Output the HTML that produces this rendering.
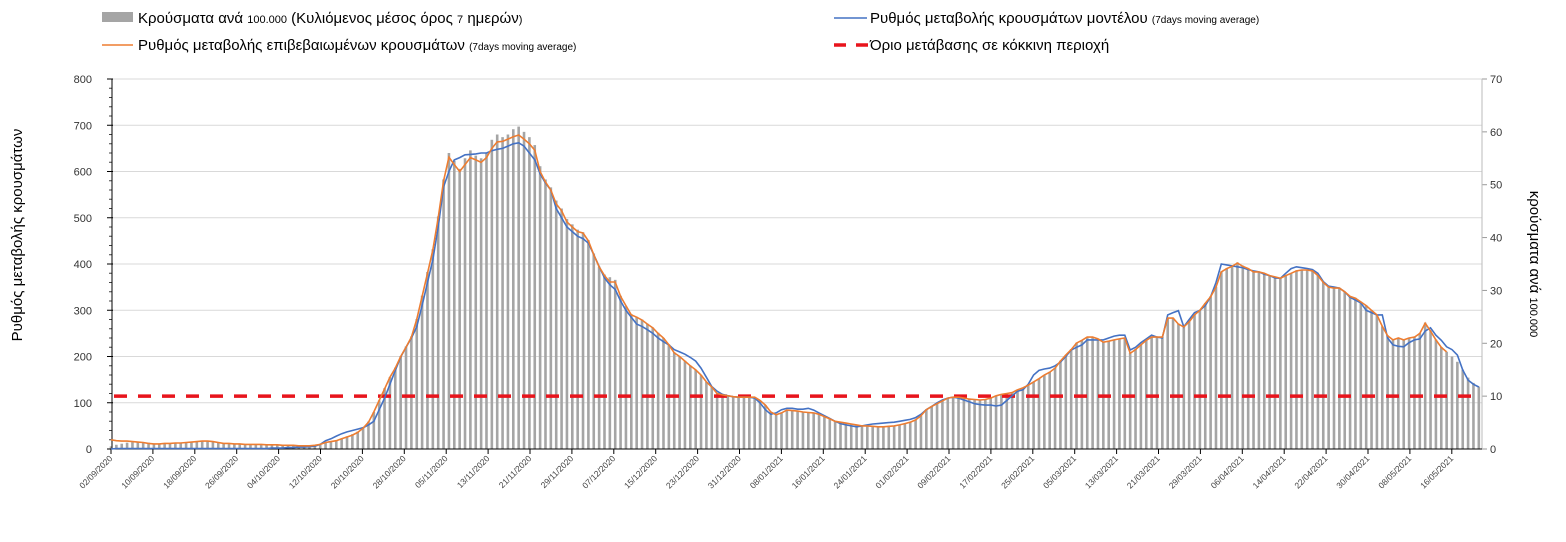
<!DOCTYPE html>
<html><head><meta charset="utf-8">
<style>
html,body{margin:0;padding:0;background:#fff;}
body{width:1566px;height:537px;overflow:hidden;font-family:"Liberation Sans","Noto Sans CJK SC",sans-serif;}
svg text{font-family:"Liberation Sans","Noto Sans CJK SC",sans-serif;}
</style></head>
<body>
<svg id="chart" width="1566" height="537" xmlns="http://www.w3.org/2000/svg">
  <g id="legend">
    <g>
      <rect x="102" y="12" width="31" height="10" fill="#a5a5a5"/>
      <text x="138" y="23" font-size="15" fill="#000">Κρούσματα ανά <tspan font-size="11">100.000</tspan> (Κυλιόμενος μέσος όρος <tspan font-size="11">7</tspan> ημερών<tspan font-size="11">)</tspan></text>
    </g>
    <g>
      <line x1="102" y1="45" x2="133" y2="45" stroke="#ed7d31" stroke-width="1.5"/>
      <text x="138" y="50" font-size="15" fill="#000">Ρυθμός μεταβολής επιβεβαιωμένων κρουσμάτων <tspan font-size="10">(7days moving average)</tspan></text>
    </g>
    <g>
      <line x1="834" y1="18" x2="867" y2="18" stroke="#4472c4" stroke-width="1.5"/>
      <text x="870" y="23" font-size="15" fill="#000">Ρυθμός μεταβολής κρουσμάτων μοντέλου <tspan font-size="10">(7days moving average)</tspan></text>
    </g>
    <g>
      <line x1="834" y1="45" x2="869" y2="45" stroke="#e8141c" stroke-width="3.5" stroke-dasharray="12,10"/>
      <text x="870" y="50" font-size="15" fill="#000">Όριο μετάβασης σε κόκκινη περιοχή</text>
    </g>
  </g>
  <text transform="translate(22,235) rotate(-90)" text-anchor="middle" font-size="15" fill="#000">Ρυθμός μεταβολής κρουσμάτων</text>
  <text transform="translate(1530,264) rotate(90)" text-anchor="middle" font-size="15" fill="#000">κρούσματα ανά <tspan font-size="11">100.000</tspan></text>
  <g id="grid"></g>
  <g id="bars"></g>
  <g id="axes"></g>
  <g id="lines"></g>
</svg>
<script>
const leftTicks = [0,100,200,300,400,500,600,700,800];
const rightTicks = [0,10,20,30,40,50,60,70];
const dateLabels = ["02/09/2020","10/09/2020","18/09/2020","26/09/2020","04/10/2020","12/10/2020","20/10/2020","28/10/2020","05/11/2020","13/11/2020","21/11/2020","29/11/2020","07/12/2020","15/12/2020","23/12/2020","31/12/2020","08/01/2021","16/01/2021","24/01/2021","01/02/2021","09/02/2021","17/02/2021","25/02/2021","05/03/2021","13/03/2021","21/03/2021","29/03/2021","06/04/2021","14/04/2021","22/04/2021","30/04/2021","08/05/2021","16/05/2021"];
const thresholdRight = 10;
const casesPer100k = [
0.5,0.8,1.0,1.2,1.3,1.4,1.3,1.2,1.0,1.0,
1.1,1.1,1.2,1.2,1.3,1.4,1.5,1.6,1.6,1.5,
1.3,1.1,1.1,1.0,1.0,0.9,0.9,0.9,0.9,0.8,
0.8,0.8,0.7,0.7,0.7,0.6,0.6,0.6,0.7,0.9,
1.3,1.5,1.7,2.0,2.4,2.8,3.3,4.1,5.2,7.0,
9.2,11.5,13.6,15.4,17.6,19.4,21.3,24.6,29.0,33.5,
37.8,44.0,51.0,56.0,54.5,53.0,55.0,56.5,55.5,55.0,
56.0,58.5,59.5,59.0,59.5,60.5,61.0,60.0,59.0,57.5,
53.5,51.0,49.5,47.0,45.5,43.5,42.5,41.5,41.0,39.5,
37.0,34.5,33.0,32.5,32.0,29.0,27.0,25.5,25.0,24.5,
23.7,23.0,22.0,21.0,19.8,18.3,17.5,16.7,15.8,15.0,
14.0,12.7,11.8,10.5,10.3,10.1,9.9,9.8,9.8,9.8,
9.8,9.2,8.3,7.0,6.5,6.8,7.4,7.3,7.2,7.0,
6.9,6.8,6.6,6.1,5.7,5.3,5.1,4.9,4.7,4.6,
4.4,4.4,4.3,4.2,4.2,4.3,4.4,4.6,4.8,5.1,
5.5,6.3,7.5,8.1,8.6,9.1,9.6,9.8,9.8,9.6,
9.5,9.4,9.3,9.4,9.6,10.1,10.4,10.5,10.7,11.2,
11.6,12.1,12.7,13.3,14.0,14.6,15.4,16.7,17.8,18.9,
20.1,20.6,21.2,21.2,20.9,20.3,20.4,20.7,20.9,21.1,
18.2,18.9,19.7,20.6,21.2,21.2,21.2,24.8,24.8,23.7,
23.2,24.1,25.4,26.3,27.6,28.9,30.7,33.6,34.2,34.7,
35.3,34.7,34.2,33.6,33.6,33.3,32.9,32.6,32.4,32.9,
33.3,33.8,33.9,33.9,33.8,32.9,31.6,30.7,30.5,30.5,
29.8,28.9,28.6,27.9,27.2,26.3,25.4,23.2,21.5,20.7,
21.1,20.7,21.1,21.2,21.9,23.9,22.4,20.7,19.3,18.4,
17.5,16.5,15.0,13.5,12.5,11.8];
const confirmedRate = [
20,18,17,17,16,15,14,12,11,11,
12,12,13,13,14,15,16,17,17,16,
14,12,12,11,11,10,10,10,10,9,
9,9,8,8,8,7,7,7,8,10,
14,16,18,22,26,30,36,45,58,80,
105,130,155,175,200,220,242,280,330,380,
430,500,580,631,615,600,615,630,625,620,
630,650,664,665,670,675,679,670,660,646,
600,577,560,530,515,491,480,470,467,450,
420,394,375,361,361,330,310,290,285,279,
270,262,250,240,225,208,200,190,180,171,
160,145,134,120,117,115,113,112,112,112,
112,105,95,80,74,78,84,83,82,80,
79,78,75,70,65,60,58,56,54,52,
50,50,49,48,48,49,50,52,55,58,
63,72,85,92,98,104,110,112,112,110,
108,107,106,107,110,115,118,120,122,128,
132,138,145,152,160,166,175,190,203,215,
229,235,242,242,238,231,233,236,238,240,
207,215,225,235,242,242,242,283,283,270,
264,275,290,300,315,329,350,383,390,395,
402,395,390,383,383,380,375,372,369,375,
380,385,387,387,385,375,360,350,348,348,
340,330,326,318,310,300,290,265,245,236,
240,236,240,242,250,272,255,236,220,210];
const modelRate = [
0,1,1,1,1,1,1,1,1,1,
1,1,1,1,1,1,1,1,1,1,
1,1,1,1,1,1,1,1,1,1,
2,2,2,3,3,4,4,5,6,10,
18,22,28,33,37,40,43,46,52,60,
85,110,140,170,199,220,240,264,310,360,
409,480,567,600,625,630,636,637,638,640,
640,645,648,650,655,660,662,655,640,625,
595,575,560,520,500,480,470,460,455,445,
420,395,370,355,345,320,300,285,270,265,
258,250,240,232,225,215,210,205,198,190,
175,155,135,125,118,115,113,112,112,112,
110,100,85,75,78,85,88,88,86,86,
88,84,78,72,66,60,55,52,50,48,
50,52,54,55,56,57,58,60,62,64,
68,75,85,92,100,106,110,112,110,106,
102,98,96,95,95,93,95,105,115,125,
128,140,160,170,173,175,180,188,200,214,
220,225,236,236,236,236,240,244,246,246,
214,220,230,238,246,242,240,290,295,299,
264,280,295,300,310,329,360,400,398,396,
394,392,388,385,383,378,375,370,369,380,
390,394,392,390,388,380,362,352,350,348,
340,328,322,316,300,295,290,290,240,225,
222,221,230,236,238,255,262,246,235,221,
215,203,171,149,140,134];

const NS="http://www.w3.org/2000/svg";
const X0=111, PXDAY=5.364, YB=449, YT=79, LX=112, RX=1482;
const LABEL_STEP=41.9;
const xDay = d => X0 + d*PXDAY;
const xLabel = i => X0 + i*LABEL_STEP;
const yL = v => YB - (v/800)*(YB-YT);
const yR = v => YB - (v/70)*(YB-YT);
function mk(tag, attrs, parent){const e=document.createElementNS(NS,tag);for(const k in attrs)e.setAttribute(k,attrs[k]);parent.appendChild(e);return e;}
const grid=document.getElementById('grid'), axes=document.getElementById('axes'), bars=document.getElementById('bars'), lines=document.getElementById('lines');

leftTicks.forEach(t=>{
  if(t>0){const g=mk('line',{x1:LX,x2:RX,y1:yL(t),y2:yL(t),stroke:'#d9d9d9','stroke-width':1},grid);
  
  }
  const lb=mk('text',{x:LX-20,y:yL(t)+4,'text-anchor':'end','font-size':11,fill:'#333'},axes);
  lb.textContent=t;
  
  
  mk('line',{x1:LX-5,x2:LX+1,y1:yL(t),y2:yL(t),stroke:'#000'},axes);
  if(t<800){for(let m=1;m<5;m++){const yy=yL(t+m*20);mk('line',{x1:LX-3,x2:LX,y1:yy,y2:yy,stroke:'#444'},axes);}}
});
rightTicks.forEach(t=>{
  const lb=mk('text',{x:RX+8,y:yR(t)+4,'text-anchor':'start','font-size':11,fill:'#333'},axes);
  lb.textContent=t;
  
  
  mk('line',{x1:RX,x2:RX+5,y1:yR(t),y2:yR(t),stroke:'#999'},axes);
});
const la=mk('line',{x1:LX,x2:LX,y1:YT,y2:YB,stroke:'#000'},axes);


const ra=mk('line',{x1:RX,x2:RX,y1:YT,y2:YB,stroke:'#bbb'},axes);


const xa=mk('line',{x1:LX,x2:RX,y1:YB,y2:YB,stroke:'#000'},axes);


dateLabels.forEach((s,i)=>{
  const x=xLabel(i);
  mk('line',{x1:x,x2:x,y1:YB,y2:YB+5,stroke:'#000'},axes);
  const lb=mk('text',{transform:`translate(${x+2},${YB+10}) rotate(-45)`,'text-anchor':'end','font-size':8.5,fill:'#444'},axes);
  lb.textContent=s;
  
  
});
casesPer100k.forEach((v,d)=>{
  const y=yR(v);
  const b=mk('rect',{x:xDay(d)-1.3,y:y,width:2.6,height:YB-y,fill:'#a5a5a5'},bars);
  
  
});
const th=mk('line',{x1:LX+2,x2:1474,y1:yR(thresholdRight),y2:yR(thresholdRight),stroke:'#e8141c','stroke-width':3.5,'stroke-dasharray':'13,11'},lines);


function path(arr){return arr.map((v,d)=>(d?'L':'M')+xDay(d).toFixed(1)+','+yL(v).toFixed(1)).join('');}
const bl=mk('path',{d:path(modelRate),fill:'none',stroke:'#4472c4','stroke-width':1.6},lines);


const ol=mk('path',{d:path(confirmedRate),fill:'none',stroke:'#ed7d31','stroke-width':1.6},lines);


</script>
</body></html>
